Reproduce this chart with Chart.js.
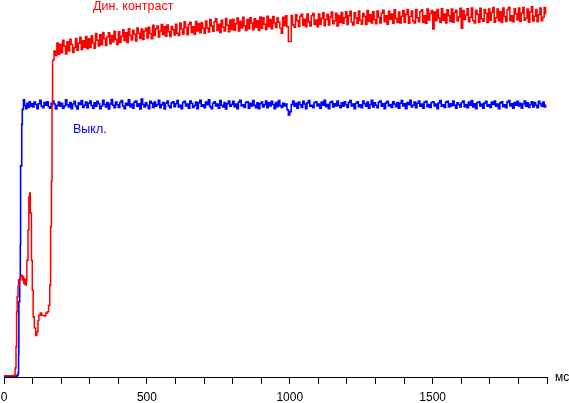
<!DOCTYPE html>
<html>
<head>
<meta charset="utf-8">
<script src="https://cdn.jsdelivr.net/npm/chart.js@4/dist/chart.umd.min.js"></script>
<style>
  html, body { margin: 0; padding: 0; background: #fff; }
  canvas { display: block; }
</style>
</head>
<body>
<canvas id="myChart" width="569" height="403"></canvas>
<script>
// time axis, ms
const xMin = 0;
const xMax = 1900;
const tickStep = 100;
const labelStep = 500;
const unitLabel = "мс";

// series names
const redName = "Дин. контраст";
const blueName = "Выкл.";

// red: start of the curve (ms / level)
const redRiseMs = [0, 36, 39, 42, 44, 46, 49, 51, 57, 60, 64, 66, 69, 72, 74, 78, 80, 84, 87, 90, 92, 96, 99, 102, 106, 111, 115, 119, 122, 127, 132, 139, 146, 152, 156, 160, 163, 166, 168, 170, 175, 180, 185, 190, 195];
const redRiseVal = [0.3, 0.5, 2.4, 8, 17.3, 21.3, 24, 25.7, 26.6, 27, 25.7, 26.6, 24.9, 26, 24.4, 25.7, 31, 39, 47.8, 48.8, 43.5, 31, 23, 16, 13, 11, 12, 15, 16.4, 17, 16.4, 16.2, 17, 17.3, 19, 24.4, 39.9, 52, 72, 84, 86.5, 85.3, 88.6, 85.6, 88.2];

// red: rest of the curve, one value every 5 ms from 200 ms
const redStartMs = 200;
const redStepMs = 5;
const redVal = [
  86, 89.3, 87.8, 85.7, 88.9, 86.5, 89.6, 88.2, 86.1, 87.4, 89.8, 86.7, 88.5, 90.1, 86.9, 89.2, 87.5, 90.3, 87.1, 89.7,
  87.4, 90.5, 88.6, 87.2, 91.1, 89.3, 87.8, 90.8, 88.1, 91.4, 89.7, 87.9, 90.2, 91.3, 88.4, 90.6, 88.9, 91.7, 89.5, 88.2,
  91.6, 88.8, 90.4, 92.1, 89.2, 91.3, 88.7, 92.4, 90.6, 89.4, 92, 90.9, 89.1, 92.6, 91.2, 89.8, 92.3, 89.5, 91.8, 92.5,
  89.9, 92.8, 91.1, 89.7, 93.3, 90.6, 92.4, 93.1, 90.2, 91.8, 93.5, 90.8, 92.9, 90.4, 93.4, 91.6, 90.3, 93, 92.1, 90.7,
  93.6, 91.2, 90.6, 93.9, 92.3, 91, 94.2, 92.7, 90.8, 93.5, 94.1, 91.4, 92.9, 90.9, 94.3, 91.8, 93.7, 91.3, 94, 92.5,
  91.2, 94.4, 92.6, 91.5, 94.8, 93.1, 91.7, 94.2, 95, 91.9, 93.6, 91.4, 94.6, 92.8, 91.8, 95.1, 93.3, 91.6, 94.7, 92.2,
  94.9, 92, 93.7, 95.2, 91.8, 94.3, 92.6, 95.4, 93.2, 91.9, 94.8, 92.4, 95.3, 93.9, 92.1, 95, 92.8, 94.5, 91.9, 95.5,
  92.5, 95.3, 93.6, 92.2, 95.7, 93, 94.8, 92.4, 95.6, 93.9, 92.7, 95.2, 94.1, 92.6, 91.2, 95.4, 93.2, 95.8, 92.9, 89,
  89, 95.9, 93.4, 92.8, 96.1, 94.5, 93, 95.7, 96.2, 93.3, 94.9, 92.9, 96.3, 94.2, 93.1, 95.8, 96.4, 93.5, 94.7, 92.9,
  96.3, 93.6, 95.1, 96.6, 93.2, 94.8, 96.2, 93.4, 95.5, 96.8, 93.7, 94.4, 96.5, 93.1, 95.9, 94, 96.7, 93.8, 95.3, 96.9,
  93.5, 95.8, 97, 94.1, 93.4, 96.6, 95.2, 93.8, 97.1, 94.6, 93.6, 96.4, 95.6, 93.5, 97.2, 94.3, 96.1, 93.9, 96.9, 94.8,
  93.7, 97.1, 95.4, 93.9, 96.5, 97.3, 94.2, 95.8, 93.6, 97, 94.9, 96.3, 93.8, 97.4, 95.1, 94, 96.8, 93.9, 95.7, 97.2,
  94.1, 96.2, 97.5, 93.8, 95.6, 97.1, 94.4, 93.9, 97.5, 95.3, 94.2, 96.9, 97.4, 94, 95.9, 93.8, 97.6, 94.7, 96.4, 97.2,
  92.3, 96.8, 94.5, 97.5, 95.2, 94, 97.7, 94.6, 96.3, 93.9, 97.4, 95.8, 94.3, 97.6, 94.1, 96.6, 97.3, 94.4, 95.5, 97.8,
  92.5, 97.2, 94.8, 96, 97.7, 94.2, 95.4, 97.9, 94.5, 93.9, 97.3, 96.2, 94.1, 97.8, 95, 94.3, 97.5, 96.4, 94, 97.6,
  94.6, 96.7, 98, 94.1, 95.3, 97.6, 94.4, 96.9, 94, 97.9, 95.6, 94.3, 97.4, 98.1, 94.5, 95.8, 94.2, 97.7, 96.3, 94.7,
  97.9, 94.3, 96.5, 98, 94.6, 95.2, 97.6, 94.1, 96.8, 98.2, 94.4, 95.7, 97.5, 94.2, 96.1, 97.9, 94.5, 95.4, 98, 96.2
];

// blue: start of the curve (ms / level)
const blueRiseMs = [0, 43, 46, 49, 51, 52, 55, 57, 58, 62, 64, 68, 72, 76, 80, 84, 88, 92, 96];
const blueRiseVal = [0.2, 0.2, 0.5, 1, 6, 20, 26, 35, 56, 67, 71, 73.5, 72, 71.2, 72.6, 71.5, 73, 71.8, 72.5];

// blue: rest of the curve, one value every 5 ms from 100 ms
const blueStartMs = 100;
const blueStepMs = 5;
const blueVal = [
  71.6, 72.9, 72.3, 71.2, 72.5, 73.4, 71.9, 71.4, 72.8, 72.1, 73, 71.7, 71.3, 72.6, 73.2, 72.4, 71.1, 72, 72.9, 71.8,
  72.6, 71.3, 71.9, 73.5, 72.2, 71.6, 72.8, 71.2, 72.4, 73.1, 71.8, 71.1, 72.7, 72.3, 73.3, 71.5, 72.1, 72.9, 71.4, 72.6,
  73.2, 72, 71.3, 72.7, 71.8, 73.1, 72.5, 71.2, 71.9, 73.4, 72.3, 71.6, 72.8, 71.1, 72.4, 73.6, 72.1, 71.4, 72.9, 72.2,
  71.5, 72.8, 73.3, 71.9, 71.2, 72.6, 72.1, 73.5, 71.7, 72.4, 71.3, 72.9, 73.2, 71.8, 72.5, 71.1, 73.7, 72.3, 71.6, 72.7,
  72, 71.2, 73.1, 72.6, 71.5, 72.9, 71.8, 72.3, 73.4, 71.4, 72.2, 72.8, 71.1, 72.6, 73.2, 71.9, 71.4, 72.7, 73, 71.7,
  72.5, 73.3, 71.6, 72.1, 71.2, 72.8, 73.1, 71.9, 72.4, 71.3, 73.2, 72.6, 71.5, 72, 72.9, 71.2, 72.7, 73.4, 71.8, 72.2,
  71.4, 72.9, 72.2, 73.5, 71.7, 71.2, 72.6, 73, 71.9, 72.4, 71.3, 73.3, 72.1, 71.6, 72.8, 71.1, 72.5, 73.2, 71.8, 72.3,
  73.1, 71.7, 72.4, 71.2, 72.9, 73.4, 71.9, 72.2, 71.5, 72.8, 73, 71.3, 72.6, 71.9, 73.3, 72.1, 71.4, 72.7, 71.2, 72.5,
  72.9, 71.6, 72.2, 73.2, 71.4, 72.7, 71.9, 73.1, 72.3, 71.2, 72.8, 71.7, 73.3, 72, 71.5, 72.6, 71.9, 72.4, 70.9, 69.5,
  70.4, 72.3, 73.2, 71.8, 72.6, 71.3, 72.9, 72.2, 71.5, 73.1, 72.4, 71.2, 72.7, 73.3, 71.8, 72.1, 71.4, 72.8, 73, 71.9,
  72.4, 71.3, 72.9, 72.1, 73.4, 71.7, 72.3, 71.2, 72.8, 73.1, 71.6, 72.5, 71.9, 73.2, 72, 71.4, 72.7, 71.8, 73, 72.2,
  71.5, 72.8, 73.3, 71.9, 72.4, 71.2, 72.6, 73, 71.7, 72.2, 71.4, 73.2, 72.5, 71.8, 72.9, 71.3, 72.3, 73.4, 71.6, 72.7,
  72.1, 71.4, 72.9, 73.2, 71.8, 72.5, 71.2, 72.7, 73.1, 71.9, 72.3, 71.5, 73, 72.4, 71.7, 72.8, 71.3, 72.6, 73.3, 71.9,
  72.5, 71.2, 72.8, 72.2, 73.4, 71.6, 72.1, 72.9, 71.4, 72.6, 73.2, 71.8, 72.4, 71.3, 72.9, 73.1, 71.7, 72.3, 71.5, 72.8,
  73, 71.9, 72.4, 71.2, 72.7, 73.3, 71.8, 72.2, 71.5, 72.9, 73.1, 71.6, 72.5, 71.9, 73.2, 72.1, 71.3, 72.7, 72.3, 71.6,
  72.8, 73.2, 71.7, 72.3, 71.4, 72.9, 72.1, 73.3, 71.6, 72.5, 71.2, 72.8, 73, 71.9, 72.4, 71.3, 72.7, 73.1, 71.8, 72.2,
  71.5, 72.9, 72.3, 73.2, 71.8, 72.4, 71.2, 72.7, 73, 71.7, 72.2, 71.4, 72.9, 73.3, 71.9, 72.5, 71.3, 72.8, 72.1, 73.1,
  71.9, 72.6, 71.3, 72.4, 73.2, 71.8, 72.7, 71.5, 72.3, 73, 71.6, 72.8, 72.1, 71.4, 73.1, 72.5, 71.8, 72.9, 71.6, 72.3
];

const toPoints = (riseMs, riseVal, start, step, vals) =>
  riseMs.map((x, i) => ({ x: x, y: riseVal[i] }))
    .concat(vals.map((y, i) => ({ x: start + i * step, y: y })));

const FONT = "'Liberation Sans', Arial, sans-serif";

// text labels next to the lines and the unit at the end of the axis
const labelsPlugin = {
  id: "labels",
  afterDraw(chart) {
    const ctx = chart.ctx;
    const xs = chart.scales.x;
    ctx.save();
    ctx.font = "12.5px " + FONT;
    ctx.textBaseline = "alphabetic";
    ctx.fillStyle = "#ff0000";
    ctx.fillText(redName, 93, 10);
    ctx.fillStyle = "#0000ff";
    ctx.fillText(blueName, 73, 133);
    ctx.font = "12px " + FONT;
    ctx.fillStyle = "#000";
    ctx.textBaseline = "middle";
    ctx.fillText(unitLabel, xs.right + 8, xs.top + 1);
    ctx.restore();
  },
};

const bgPlugin = {
  id: "bg",
  beforeDraw(chart) {
    const ctx = chart.ctx;
    ctx.save();
    ctx.fillStyle = "#fff";
    ctx.fillRect(0, 0, chart.width, chart.height);
    ctx.restore();
  },
};

var ctx = document.getElementById("myChart").getContext("2d");
var myChart = new Chart(ctx, {
  type: "line",
  data: {
    datasets: [
      {
        label: redName,
        data: toPoints(redRiseMs, redRiseVal, redStartMs, redStepMs, redVal),
        borderColor: "#ff0000",
        borderWidth: 1.5,
        pointRadius: 0,
        stepped: true,
      },
      {
        label: blueName,
        data: toPoints(blueRiseMs, blueRiseVal, blueStartMs, blueStepMs, blueVal),
        borderColor: "#0000ff",
        borderWidth: 1.6,
        pointRadius: 0,
        stepped: true,
      },
    ],
  },
  options: {
    responsive: false,
    animation: false,
    devicePixelRatio: 1,
    layout: { padding: { left: 4, right: 22, top: 0, bottom: 0 } },
    plugins: {
      legend: { display: false },
      tooltip: { enabled: false },
    },
    scales: {
      x: {
        type: "linear",
        min: xMin,
        max: xMax,
        afterFit: (scale) => { scale.height = 26; },
        border: { display: true, color: "#000", width: 1 },
        grid: { display: true, drawOnChartArea: false, drawTicks: true, tickLength: 7, color: "#000" },
        ticks: {
          stepSize: tickStep,
          autoSkip: false,
          maxRotation: 0,
          padding: 0,
          color: "#000",
          font: { family: FONT, size: 12, lineHeight: 2.33 },
          callback: (v) => (v % labelStep === 0 ? String(v) : ""),
        },
      },
      y: {
        display: false,
        min: 0,
        max: 100,
      },
    },
  },
  plugins: [bgPlugin, labelsPlugin],
});
</script>
</body>
</html>
